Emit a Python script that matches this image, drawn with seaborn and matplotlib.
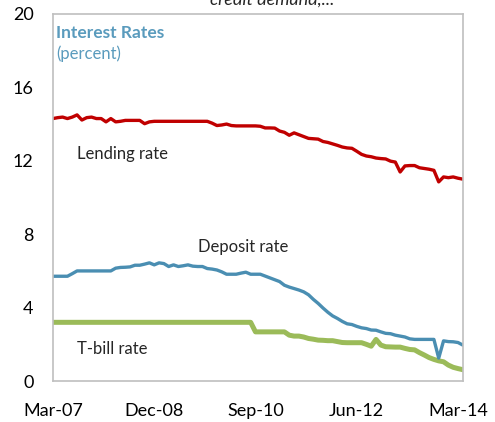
import numpy as np
import pandas as pd
import matplotlib
matplotlib.use("Agg")
import matplotlib.pyplot as plt
import seaborn as sns

# monthly observations, Mar-07 .. Apr-14 (percent)
months = np.arange(86)

lending_rate = [
    14.30, 14.35, 14.38, 14.30, 14.38, 14.50, 14.22, 14.35, 14.38, 14.30,
    14.30, 14.12, 14.30, 14.12, 14.15, 14.20, 14.20, 14.20, 14.20, 14.02,
    14.12, 14.15, 14.15, 14.15, 14.15, 14.15, 14.15, 14.15, 14.15, 14.15,
    14.15, 14.15, 14.15, 14.05, 13.92, 13.95, 14.00, 13.92, 13.90, 13.90,
    13.90, 13.90, 13.90, 13.88, 13.79, 13.79, 13.78, 13.62, 13.55, 13.39,
    13.52, 13.42, 13.32, 13.22, 13.20, 13.18, 13.05, 13.00, 12.92, 12.84,
    12.75, 12.70, 12.68, 12.52, 12.35, 12.26, 12.22, 12.15, 12.12, 12.10,
    11.98, 11.93, 11.39, 11.72, 11.74, 11.74, 11.62, 11.58, 11.54, 11.48,
    10.85, 11.12, 11.08, 11.12, 11.05, 11.00,
]

deposit_rate = [
    5.71, 5.71, 5.71, 5.71, 5.85, 6.00, 6.00, 6.00, 6.00, 6.00,
    6.00, 6.00, 6.00, 6.15, 6.19, 6.20, 6.22, 6.31, 6.31, 6.37,
    6.44, 6.33, 6.44, 6.40, 6.24, 6.33, 6.24, 6.28, 6.33, 6.26,
    6.24, 6.24, 6.13, 6.10, 6.05, 5.95, 5.82, 5.82, 5.82, 5.88,
    5.93, 5.82, 5.82, 5.82, 5.72, 5.62, 5.52, 5.42, 5.22, 5.12,
    5.04, 4.96, 4.86, 4.70, 4.45, 4.23, 3.98, 3.75, 3.55, 3.41,
    3.25, 3.12, 3.08, 2.98, 2.90, 2.86, 2.78, 2.77, 2.68, 2.60,
    2.58, 2.50, 2.45, 2.40, 2.30, 2.27, 2.27, 2.27, 2.27, 2.27,
    1.25, 2.19, 2.15, 2.14, 2.10, 1.96,
]

tbill_rate = [3.20] * 42 + [
    2.68, 2.68, 2.68, 2.68, 2.68, 2.68, 2.68, 2.50, 2.45, 2.45,
    2.40, 2.32, 2.28, 2.23, 2.22, 2.20, 2.20, 2.15, 2.10, 2.09,
    2.09, 2.09, 2.09, 2.00, 1.90, 2.27, 1.96, 1.87, 1.86, 1.85,
    1.85, 1.78, 1.72, 1.70, 1.55, 1.42, 1.28, 1.18, 1.10, 1.05,
    0.87, 0.75, 0.68, 0.62,
]

tick_pos = [0, 21, 42, 63, 84]
tick_labels = ["Mar-07", "Dec-08", "Sep-10", "Jun-12", "Mar-14"]

df = pd.DataFrame({
    "month": months,
    "Lending rate": lending_rate,
    "Deposit rate": deposit_rate,
    "T-bill rate": tbill_rate,
})

sns.set_style("white")
plt.rcParams["font.family"] = ["Lato", "DejaVu Sans"]

fig = plt.figure(figsize=(4.95, 4.22), dpi=100)
ax = fig.add_axes([0.107, 0.097, 0.828, 0.870])

sns.lineplot(data=df, x="month", y="T-bill rate", ax=ax, color="#9BBB59", linewidth=3.6)
sns.lineplot(data=df, x="month", y="Deposit rate", ax=ax, color="#4A8EB2", linewidth=2.4)
sns.lineplot(data=df, x="month", y="Lending rate", ax=ax, color="#C00000", linewidth=2.4)

ax.set_xlim(0, 85)
ax.set_ylim(0, 20)
ax.set_yticks([0, 4, 8, 12, 16, 20])
ax.set_xticks(tick_pos)
ax.set_xticklabels(tick_labels)
ax.set_xlabel(None)
ax.set_ylabel(None)

for s in ax.spines.values():
    s.set_color("#BFBFBF")
    s.set_linewidth(1.2)
ax.tick_params(axis="both", direction="in", length=4, color="#BFBFBF",
               labelsize=13, labelcolor="black")
ax.tick_params(axis="y", pad=14)
ax.tick_params(axis="x", pad=16)

ax.text(0.007, 0.948, "Interest Rates", transform=ax.transAxes, fontsize=12.5,
        fontweight="bold", color="#5A9BBD", va="center")
ax.text(0.007, 0.892, "(percent)", transform=ax.transAxes, fontsize=12,
        color="#5A9BBD", va="center")
ax.text(5, 12.35, "Lending rate", fontsize=12, va="center")
ax.text(39.4, 7.3, "Deposit rate", fontsize=12, va="center", ha="center")
ax.text(5, 1.75, "T-bill rate", fontsize=12, va="center")

fig.text(0.55, 1.0, "credit demand,...", fontsize=13, style="italic",
         ha="center", va="center")

fig.savefig("out.png", dpi=100)
